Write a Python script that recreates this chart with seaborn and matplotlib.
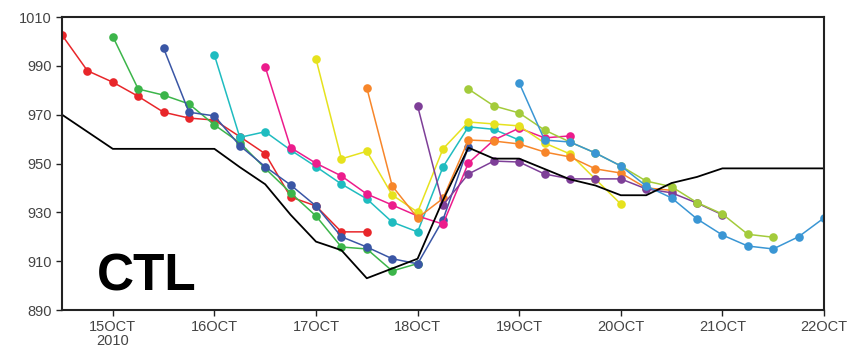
import numpy as np
import pandas as pd
import seaborn as sns
import matplotlib.pyplot as plt

# observed (best track) central pressure, day of October 2010
obs_days = [14.5, 15.0, 16.0, 16.25, 16.5, 16.75, 17.0, 17.25, 17.5, 18.0, 18.25,
            18.5, 18.75, 19.0, 19.5, 19.75, 20.0, 20.25, 20.5, 20.75, 21.0, 22.0]
obs_mslp = [970, 956, 956, 948.5, 941.5, 929, 918, 914.5, 903, 911, 935,
            956.5, 952, 952, 943.5, 941, 937, 937, 942, 944.5, 948, 948]

# forecasts, one every 12 h, 6-hourly output for 3 days
run_start = [14.5, 15.0, 15.5, 16.0, 16.5, 17.0, 17.5, 18.0, 18.5, 19.0]
run_names = ['r1', 'r2', 'r3', 'r4', 'r5', 'r6', 'r7', 'r8', 'r9', 'r10']
run_colors = ['#e8262a', '#3cb54a', '#3a56a5', '#1fbcc0', '#ec1c8c',
              '#e6e21e', '#f7862a', '#7e3f98', '#a3cb3b', '#3a96d4']

r1 = [1002.6, 988, 983.3, 977.5, 971, 968.6, 967.8, 961, 954, 936.3, 932.6, 922, 922]
r2 = [1002, 980.5, 978, 974.4, 965.8, 958.5, 948, 938, 928.5, 915.8, 915, 906, 909]
r3 = [997.2, 971, 969.5, 957.3, 948.7, 941.2, 932.6, 920, 915.8, 911, 908.9, 927, 956.8]
r4 = [994.4, 960.7, 963, 955.5, 948.7, 941.6, 935.5, 926, 922, 948.6, 965, 964, 959.6]
r5 = [989.6, 956.5, 950.1, 944.9, 937.5, 933, 928.5, 925.2, 950.2, 959.6, 964.5, 960.5, 961.3]
r6 = [992.8, 951.9, 955, 937.1, 930.1, 956, 967, 966.2, 965.4, 958.4, 953.9, 943.6, 933.4]
r7 = [981, 940.8, 927.7, 935.7, 959.6, 959.2, 958, 954.7, 952.7, 947.8, 946.1, 940, 939]
r8 = [973.6, 933, 945.7, 951, 950.6, 945.7, 943.7, 943.7, 943.7, 939.6, 938, 933.8, 929]
r9 = [980.5, 973.6, 970.7, 963.7, 958.8, 954.3, 949, 942.8, 940.5, 934, 929.3, 921, 919.8]
r10 = [983, 959.6, 958.8, 954.3, 949, 940.8, 935.9, 927.3, 920.7, 916.2, 915, 920, 927.7]
runs = [r1, r2, r3, r4, r5, r6, r7, r8, r9, r10]

xtick_days = [15, 16, 17, 18, 19, 20, 21, 22]
xtick_labels = ['15OCT\n2010', '16OCT', '17OCT', '18OCT', '19OCT', '20OCT', '21OCT', '22OCT']
ytick_vals = [890, 910, 930, 950, 970, 990, 1010]

rows = []
for name, start, vals in zip(run_names, run_start, runs):
    for k, v in enumerate(vals):
        rows.append({'run': name, 'day': start + 0.25 * k, 'mslp': v})
df = pd.DataFrame(rows)

sns.set_theme(style='white')
plt.rcParams['font.family'] = ['Liberation Sans', 'DejaVu Sans']

fig = plt.figure(figsize=(8.57, 3.48), dpi=100)
ax = fig.add_axes([62 / 857, 1 - 310 / 348, 762 / 857, 293 / 348])

sns.lineplot(data=df, x='day', y='mslp', hue='run', hue_order=run_names,
             palette=run_colors, marker='o', markersize=6.2, markeredgewidth=0,
             linewidth=1.1, legend=False, ax=ax, sort=False)
sns.lineplot(x=obs_days, y=obs_mslp, color='black', linewidth=1.3, ax=ax, sort=False)

ax.set_xlim(14.5, 22.0)
ax.set_ylim(890, 1010)
ax.set_xticks(xtick_days)
ax.set_xticklabels(xtick_labels, linespacing=1.0)
ax.set_yticks(ytick_vals)
ax.set_xlabel('')
ax.set_ylabel('')
ax.tick_params(axis='both', direction='out', length=4, width=1, colors='#222',
               labelcolor='#444', labelsize=10.5, pad=3.5)
ax.tick_params(axis='x', bottom=True)
ax.tick_params(axis='y', left=True)
for sp in ax.spines.values():
    sp.set_color('#222')
    sp.set_linewidth(1.5)

ax.text(0.046, 0.065, 'CTL', transform=ax.transAxes, fontsize=37,
        fontweight='bold', color='black', va='baseline', ha='left')

fig.savefig('out.png', dpi=100)
